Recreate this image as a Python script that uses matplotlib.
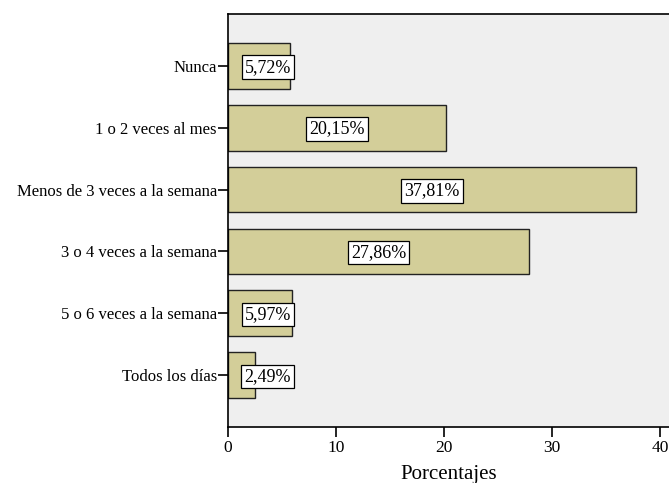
import matplotlib
matplotlib.use("Agg")
import matplotlib.pyplot as plt

categories = ["Nunca", "1 o 2 veces al mes", "Menos de 3 veces a la semana",
              "3 o 4 veces a la semana", "5 o 6 veces a la semana", "Todos los días"]
values = [5.72, 20.15, 37.81, 27.86, 5.97, 2.49]
labels = ["5,72%", "20,15%", "37,81%", "27,86%", "5,97%", "2,49%"]
xticks = [0, 10, 20, 30, 40]

plt.rcParams['font.family'] = ['Liberation Serif', 'DejaVu Serif']

fig = plt.figure(figsize=(6.69, 4.83), dpi=100)
W, H = 669, 483
ax = fig.add_axes([228 / W, 1 - 427 / H, (669 - 228) / W, (427 - 14) / H])
ax.set_facecolor('#efefef')

ypos = list(range(len(categories)))
ax.barh(ypos, values, height=0.74, color='#d3ce99', edgecolor='#222222', linewidth=1.0)

for y, v, lab in zip(ypos, values, labels):
    ax.text(max(v / 2, 3.7), y + 0.02, lab, ha='center', va='center', fontsize=13,
            bbox=dict(boxstyle='square,pad=0.18', facecolor='white', edgecolor='black', linewidth=0.9))

ax.set_ylim(5.84, -0.84)
ax.set_xlim(0, 40.85)
ax.set_yticks(ypos)
ax.set_yticklabels(categories, fontsize=12)
ax.set_xticks(xticks)
ax.set_xticklabels([str(t) for t in xticks], fontsize=12.5)
ax.tick_params(axis='both', direction='out', length=7.5, width=1.2, color='black')
ax.tick_params(axis='y', pad=0.5)
ax.tick_params(axis='x', pad=1.5)
for s in ['left', 'bottom', 'top']:
    ax.spines[s].set_linewidth(1.2)
    ax.spines[s].set_color('black')
ax.spines['right'].set_visible(False)
ax.set_xlabel("Porcentajes", fontsize=15, labelpad=7)

fig.savefig("out.png", dpi=100)
